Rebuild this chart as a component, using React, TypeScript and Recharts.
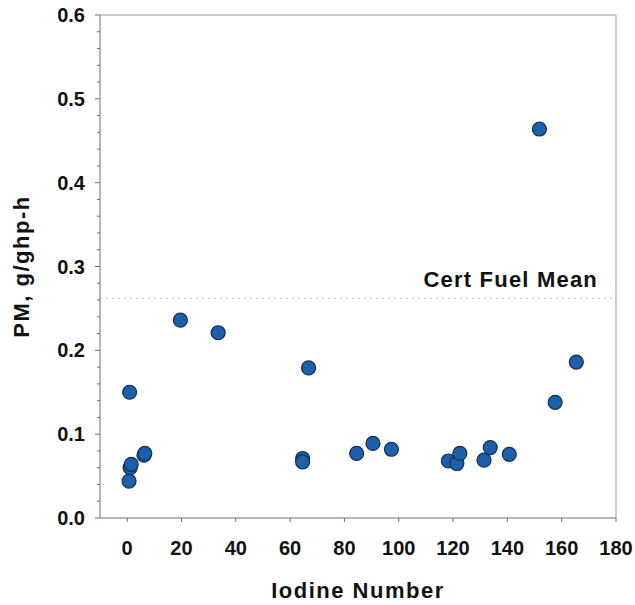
import { ScatterChart, Scatter, XAxis, YAxis, ReferenceLine } from "recharts";

// =============================================================================
// Data
// =============================================================================

const iodineNumber = [
  0.7, 1.1, 1.5, 0.9, 6.2, 6.5, 19.6, 33.5, 64.6, 64.6, 66.8, 84.5, 90.5, 97.3,
  118.3, 121.4, 122.5, 131.4, 133.7, 140.7, 151.8, 157.6, 165.4,
];
const pmValues = [
  0.044, 0.06, 0.064, 0.15, 0.075, 0.077, 0.236, 0.221, 0.071, 0.067, 0.179,
  0.077, 0.089, 0.082, 0.068, 0.065, 0.077, 0.069, 0.084, 0.076, 0.464, 0.138,
  0.186,
];

const xTicks = [0, 20, 40, 60, 80, 100, 120, 140, 160, 180];
const yTicks = [
  0, 0.02, 0.04, 0.06, 0.08, 0.1, 0.12, 0.14, 0.16, 0.18, 0.2, 0.22, 0.24,
  0.26, 0.28, 0.3, 0.32, 0.34, 0.36, 0.38, 0.4, 0.42, 0.44, 0.46, 0.48, 0.5,
  0.52, 0.54, 0.56, 0.58, 0.6,
];
const certFuelMean = 0.262;

const points = iodineNumber.map((x, i) => ({ x, y: pmValues[i] }));

// =============================================================================
// Styling
// =============================================================================

const FONT = "'Liberation Sans', Arial, sans-serif";
const AXIS_COLOR = "#6e6e6e";
const TEXT_COLOR = "#111";

function YTick(props: any) {
  const { x, y, payload } = props;
  const v = payload.value as number;
  const major = Math.abs(Math.round(v * 10) - v * 10) < 1e-6;
  return (
    <g>
      <line x1={x - (major ? 5 : 3)} x2={x} y1={y} y2={y} stroke={AXIS_COLOR} />
      {major && (
        <text
          x={x - 15}
          y={y}
          textAnchor="end"
          dominantBaseline="central"
          fontFamily={FONT}
          fontWeight="bold"
          fontSize={20}
          fill={TEXT_COLOR}
        >
          {v.toFixed(1)}
        </text>
      )}
    </g>
  );
}

function Dot(props: any) {
  const { cx, cy } = props;
  return <circle cx={cx} cy={cy} r={7} fill="#1d5fab" stroke="#122f52" strokeWidth={1.2} />;
}

// =============================================================================
// Component
// =============================================================================

export default function App() {
  return (
    <div style={{ position: "absolute", left: 0, top: 0, background: "#fff" }}>
      <ScatterChart
        width={635}
        height={605}
        margin={{ top: 15, right: 19, left: 0, bottom: 0 }}
      >
        <XAxis
          type="number"
          dataKey="x"
          domain={[-10, 180]}
          ticks={xTicks}
          interval={0}
          height={87}
          stroke={AXIS_COLOR}
          tickSize={4}
          tickMargin={19}
          tick={{ fontSize: 20, fontWeight: "bold", fill: TEXT_COLOR, fontFamily: FONT }}
          label={{
            content: (p: any) => {
              const vb = p.viewBox;
              return (
                <text
                  x={vb.x + vb.width / 2}
                  y={vb.y + 80}
                  textAnchor="middle"
                  fontFamily={FONT}
                  fontWeight="bold"
                  fontSize={22}
                  letterSpacing={1.5}
                  fill={TEXT_COLOR}
                >
                  Iodine Number
                </text>
              );
            },
          }}
        />
        <YAxis
          type="number"
          dataKey="y"
          domain={[0, 0.6]}
          ticks={yTicks}
          interval={0}
          width={100}
          stroke={AXIS_COLOR}
          tickLine={false}
          tickSize={0}
          tickMargin={0}
          tick={<YTick />}
          label={{
            content: (p: any) => {
              const vb = p.viewBox;
              const cx = vb.x + 21;
              const cy = vb.y + vb.height / 2;
              return (
                <text
                  x={cx}
                  y={cy}
                  transform={`rotate(-90, ${cx}, ${cy})`}
                  textAnchor="middle"
                  dominantBaseline="central"
                  fontFamily={FONT}
                  fontWeight="bold"
                  fontSize={22}
                  letterSpacing={1.5}
                  fill={TEXT_COLOR}
                >
                  PM, g/ghp-h
                </text>
              );
            },
          }}
        />
        <ReferenceLine y={0.6} stroke="#999" />
        <ReferenceLine x={180} stroke="#999" />
        <ReferenceLine
          y={certFuelMean}
          stroke="#c4c4c4"
          strokeDasharray="2 4"
          label={{
            content: (p: any) => {
              const vb = p.viewBox;
              return (
                <text
                  x={vb.x + vb.width - 18}
                  y={vb.y - 11}
                  textAnchor="end"
                  fontFamily={FONT}
                  fontWeight="bold"
                  fontSize={22}
                  letterSpacing={1.2}
                  fill={TEXT_COLOR}
                >
                  Cert Fuel Mean
                </text>
              );
            },
          }}
        />
        <Scatter data={points} shape={<Dot />} isAnimationActive={false} />
      </ScatterChart>
    </div>
  );
}
